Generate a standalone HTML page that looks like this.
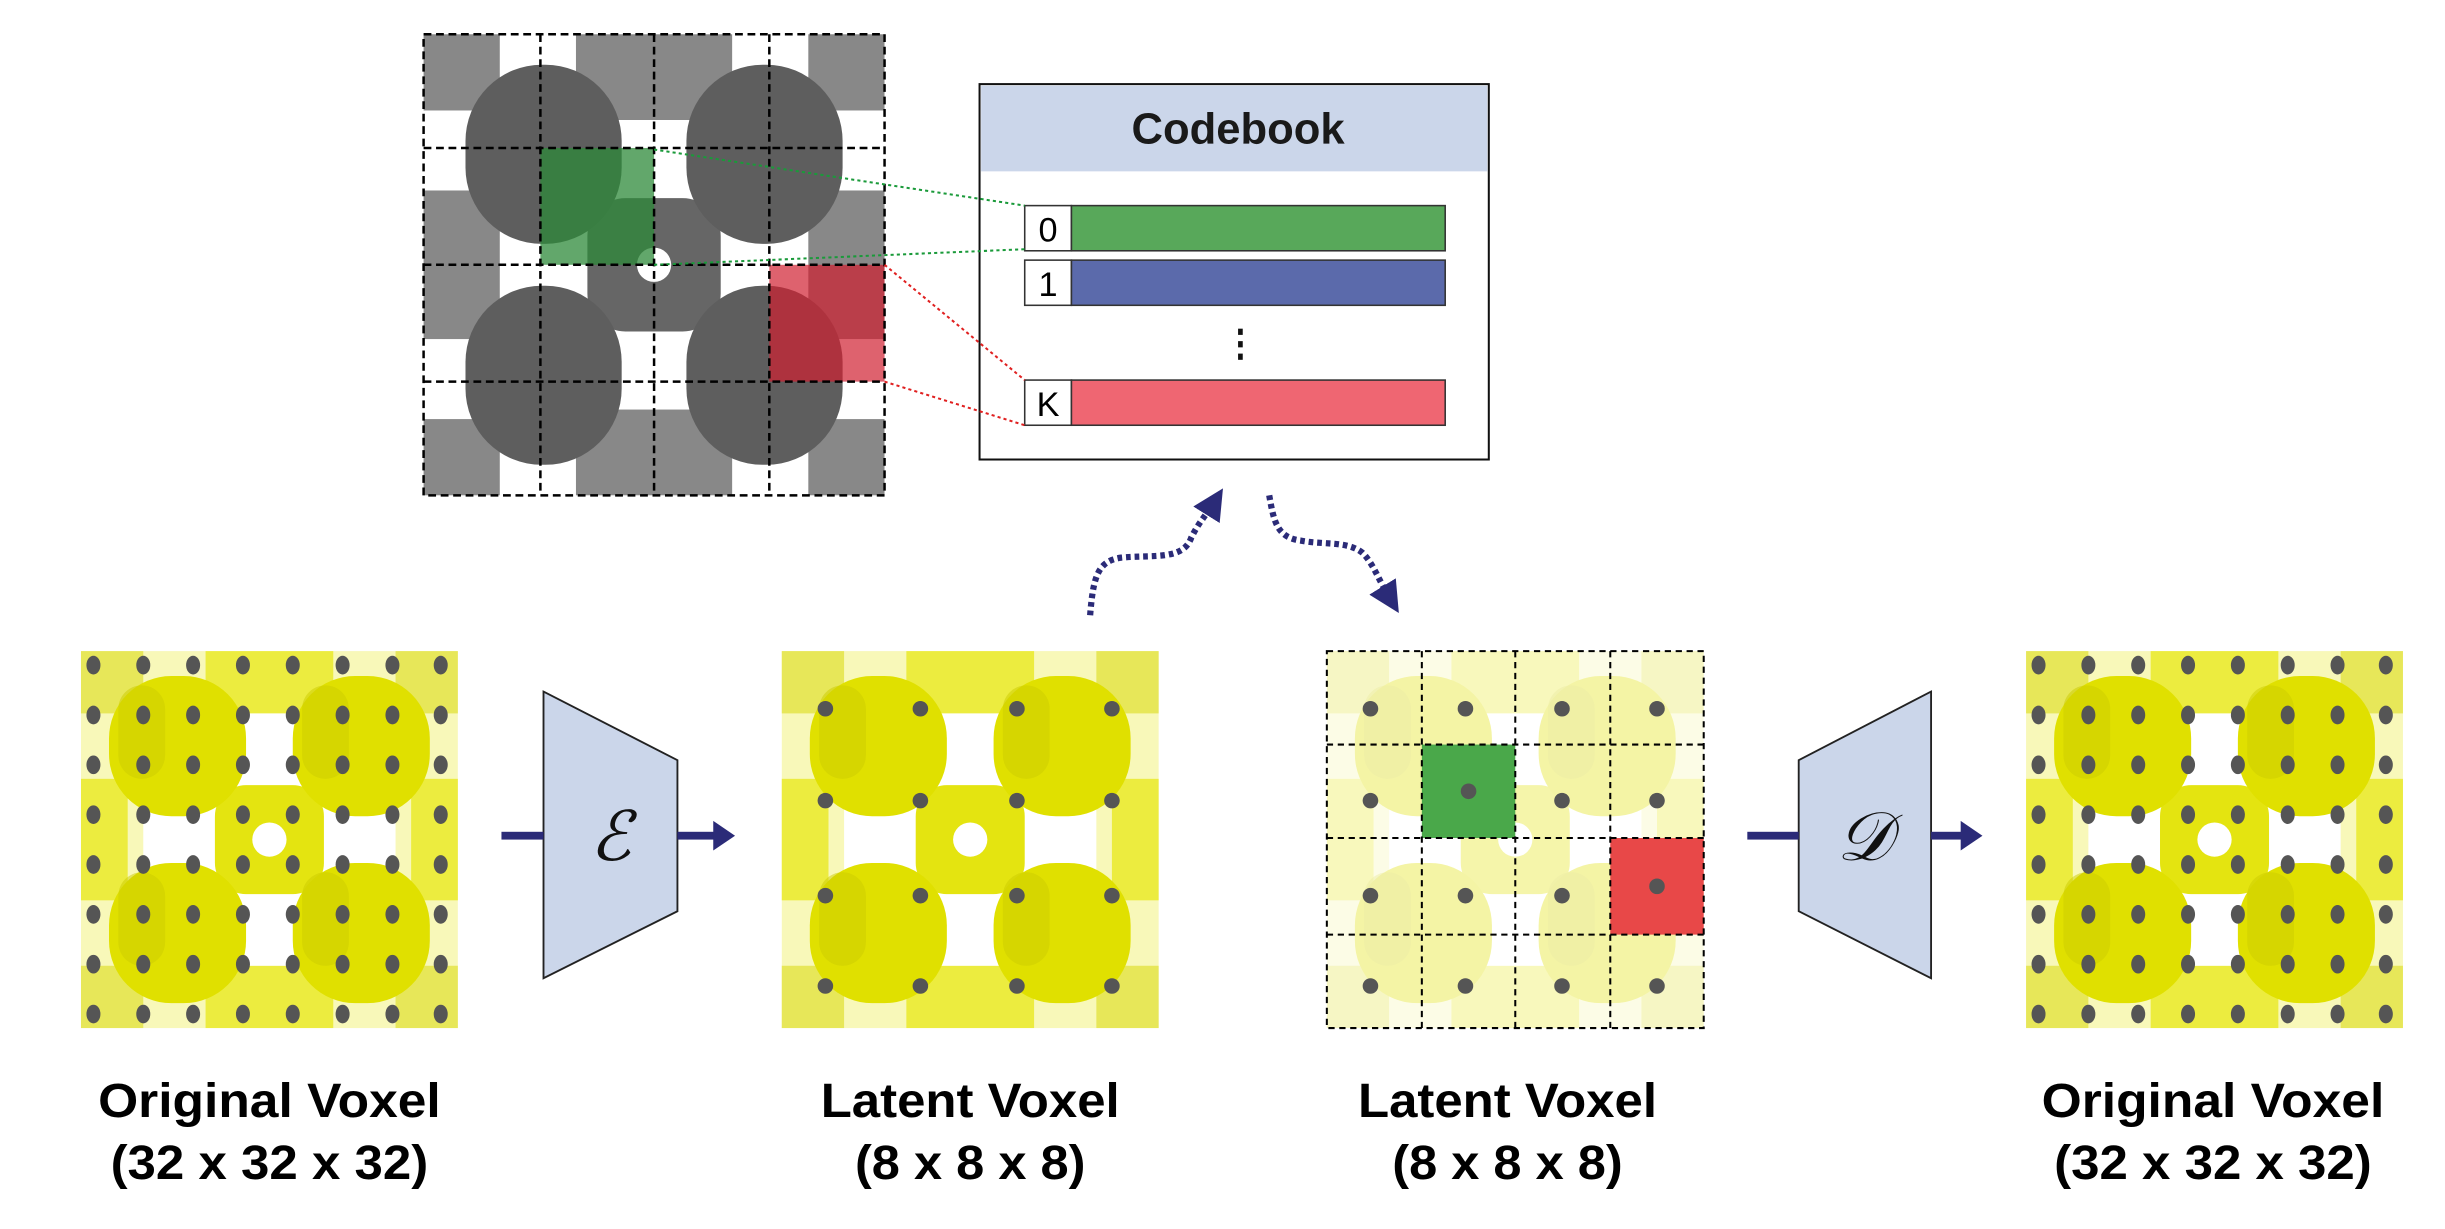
<!DOCTYPE html>
<html><head><meta charset="utf-8"><style>
html,body{margin:0;padding:0;background:#fff;}
svg{display:block;}
text{font-family:"Liberation Sans",Arial,sans-serif;}
</style></head><body>
<svg width="2445" height="1229" viewBox="0 0 1570 789" preserveAspectRatio="none" xmlns="http://www.w3.org/2000/svg">
<defs>
<marker id="ah" markerWidth="5" markerHeight="5" refX="2.5" refY="2.5" orient="auto" markerUnits="strokeWidth">
<path d="M0,0 L5,2.5 L0,5 z" fill="#2b2b78"/></marker>
<g id="vox">
  <rect x="0" y="0" width="242" height="242" fill="#f4f48a" opacity="0.6"/>
  <rect x="0" y="0" width="40" height="40" fill="#e0e030" opacity="0.7"/>
  <rect x="202" y="0" width="40" height="40" fill="#e0e030" opacity="0.7"/>
  <rect x="0" y="202" width="40" height="40" fill="#e0e030" opacity="0.7"/>
  <rect x="202" y="202" width="40" height="40" fill="#e0e030" opacity="0.7"/>
  <rect x="80" y="0" width="82" height="40" fill="#e8e820" opacity="0.8"/>
  <rect x="80" y="202" width="82" height="40" fill="#e8e820" opacity="0.8"/>
  <rect x="0" y="82" width="30" height="78" fill="#e8e820" opacity="0.8"/>
  <rect x="212" y="82" width="30" height="78" fill="#e8e820" opacity="0.8"/>
  <rect x="40" y="40" width="162" height="162" fill="#fff"/>
  <rect x="86" y="86" width="70" height="70" rx="20" fill="#e4e410"/>
  <circle cx="121" cy="121" r="11" fill="#fff"/>
  <rect x="18" y="16" width="88" height="90" rx="40" fill="#e0e000"/>
  <rect x="136" y="16" width="88" height="90" rx="40" fill="#e0e000"/>
  <rect x="18" y="136" width="88" height="90" rx="40" fill="#e0e000"/>
  <rect x="136" y="136" width="88" height="90" rx="40" fill="#e0e000"/>
  <rect x="24" y="22" width="30" height="60" rx="15" fill="#cccc00" opacity="0.5"/>
  <rect x="142" y="22" width="30" height="60" rx="15" fill="#cccc00" opacity="0.5"/>
  <rect x="24" y="142" width="30" height="60" rx="15" fill="#cccc00" opacity="0.5"/>
  <rect x="142" y="142" width="30" height="60" rx="15" fill="#cccc00" opacity="0.5"/>
</g>
<g id="grey">
  <rect x="0" y="0" width="242" height="242" fill="#fff"/>
  <g fill="#888">
    <rect x="0" y="0" width="40" height="40"/><rect x="202" y="0" width="40" height="40"/>
    <rect x="0" y="202" width="40" height="40"/><rect x="202" y="202" width="40" height="40"/>
    <rect x="80" y="0" width="82" height="45"/><rect x="80" y="197" width="82" height="45"/>
    <rect x="0" y="82" width="40" height="78"/><rect x="202" y="82" width="40" height="78"/>
  </g>
  <rect x="86" y="86" width="70" height="70" rx="20" fill="#666"/>
  <circle cx="121" cy="121" r="9" fill="#fff"/>
  <g fill="#5e5e5e">
  <rect x="22" y="16" width="82" height="94" rx="40"/><rect x="138" y="16" width="82" height="94" rx="40"/>
  <rect x="22" y="132" width="82" height="94" rx="40"/><rect x="138" y="132" width="82" height="94" rx="40"/>
  </g>
</g>
<g id="dots8" fill="#555">
  <g id="drow">
  <ellipse cx="8" cy="9" rx="4.5" ry="6"/><ellipse cx="40" cy="9" rx="4.5" ry="6"/><ellipse cx="72" cy="9" rx="4.5" ry="6"/><ellipse cx="104" cy="9" rx="4.5" ry="6"/>
  <ellipse cx="136" cy="9" rx="4.5" ry="6"/><ellipse cx="168" cy="9" rx="4.5" ry="6"/><ellipse cx="200" cy="9" rx="4.5" ry="6"/><ellipse cx="231" cy="9" rx="4.5" ry="6"/>
  </g>
  <use href="#drow" y="32"/><use href="#drow" y="64"/><use href="#drow" y="96"/>
  <use href="#drow" y="128"/><use href="#drow" y="160"/><use href="#drow" y="192"/><use href="#drow" y="224"/>
</g>
<g id="dots4" fill="#555">
  <g id="drow4"><circle cx="28" cy="37" r="5"/><circle cx="89" cy="37" r="5"/><circle cx="151" cy="37" r="5"/><circle cx="212" cy="37" r="5"/></g>
  <use href="#drow4" y="59"/><use href="#drow4" y="120"/><use href="#drow4" y="178"/>
</g>
</defs>

<!-- top grey grid -->
<g transform="translate(272,22) scale(1.223)"><use href="#grey"/></g>
<rect x="347" y="95" width="73" height="75" fill="#2e8a3a" opacity="0.75"/>
<rect x="494" y="170" width="74" height="75" fill="#d02030" opacity="0.7"/>
<g stroke="#000" stroke-width="1.6" stroke-dasharray="5,3" fill="none">
  <rect x="272" y="22" width="296" height="296"/>
  <line x1="347" y1="22" x2="347" y2="318"/><line x1="420" y1="22" x2="420" y2="318"/><line x1="494" y1="22" x2="494" y2="318"/>
  <line x1="272" y1="95" x2="568" y2="95"/><line x1="272" y1="170" x2="568" y2="170"/><line x1="272" y1="245" x2="568" y2="245"/>
</g>

<!-- codebook -->
<rect x="629" y="54" width="327" height="241" fill="#fff" stroke="#111" stroke-width="1.3"/>
<rect x="630" y="55" width="325" height="55" fill="#cbd6ea"/>
<text x="795" y="92" font-size="28" font-weight="bold" text-anchor="middle" fill="#1a1a1a">Codebook</text>
<rect x="658" y="132" width="30" height="29" fill="#fff" stroke="#333"/>
<rect x="688" y="132" width="240" height="29" fill="#58a85a" stroke="#333"/>
<text x="673" y="155" font-size="22" text-anchor="middle">0</text>
<rect x="658" y="167" width="30" height="29" fill="#fff" stroke="#333"/>
<rect x="688" y="167" width="240" height="29" fill="#5b6aab" stroke="#333"/>
<text x="673" y="190" font-size="22" text-anchor="middle">1</text>
<g fill="#111"><rect x="795" y="211" width="3" height="4"/><rect x="795" y="219" width="3" height="4"/><rect x="795" y="227" width="3" height="4"/></g>
<rect x="658" y="244" width="30" height="29" fill="#fff" stroke="#333"/>
<rect x="688" y="244" width="240" height="29" fill="#ef6672" stroke="#333"/>
<text x="673" y="267" font-size="22" text-anchor="middle">K</text>
<g stroke-width="1.3" stroke-dasharray="2,2" fill="none">
  <line x1="420" y1="96" x2="658" y2="132" stroke="#1a9a3a"/>
  <line x1="420" y1="170" x2="658" y2="160" stroke="#1a9a3a"/>
  <line x1="568" y1="170" x2="658" y2="244" stroke="#e02020"/>
  <line x1="568" y1="245" x2="658" y2="273" stroke="#e02020"/>
</g>

<!-- dashed arrows -->
<g stroke="#2b2b78" stroke-width="4" stroke-dasharray="3,2.5" fill="none">
  <path d="M700,395 C702,370 705,360 720,358 C740,356 760,360 765,345 C770,335 775,330 780,322" marker-end="url(#ah)"/>
  <path d="M815,318 C818,335 820,345 835,347 C850,350 865,347 875,355 C882,362 885,372 893,385" marker-end="url(#ah)"/>
</g>

<!-- panels -->
<g transform="translate(52,418)"><use href="#vox"/><use href="#dots8"/></g>
<g transform="translate(502,418)"><use href="#vox"/><use href="#dots4"/></g>
<g transform="translate(852,418)"><use href="#vox" opacity="0.35"/><use href="#dots4"/></g>
<rect x="913" y="478" width="60" height="60" fill="#4aa84a"/>
<rect x="1034" y="538" width="60" height="62" fill="#e84848"/>
<circle cx="943" cy="508" r="5" fill="#555"/><circle cx="1064" cy="569" r="5" fill="#555"/>
<g stroke="#000" stroke-width="1.3" stroke-dasharray="4,3" fill="none">
  <rect x="852" y="418" width="242" height="242"/>
  <line x1="913" y1="418" x2="913" y2="660"/><line x1="973" y1="418" x2="973" y2="660"/><line x1="1034" y1="418" x2="1034" y2="660"/>
  <line x1="852" y1="478" x2="1094" y2="478"/><line x1="852" y1="538" x2="1094" y2="538"/><line x1="852" y1="600" x2="1094" y2="600"/>
</g>
<g transform="translate(1301,418)"><use href="#vox"/><use href="#dots8"/></g>

<!-- encoder / decoder -->
<polygon points="349,444 435,488 435,585 349,628" fill="#cbd6ea" stroke="#222" stroke-width="1.2"/>
<text x="392" y="552" font-size="44" font-family="Liberation Serif,serif" font-style="italic" text-anchor="middle" fill="#111">ℰ</text>
<polygon points="1240,444 1155,488 1155,585 1240,628" fill="#cbd6ea" stroke="#222" stroke-width="1.2"/>
<text x="1197" y="552" font-size="44" font-family="Liberation Serif,serif" font-style="italic" text-anchor="middle" fill="#111">𝒟</text>
<g fill="#2b2b78">
  <rect x="322" y="534" width="27" height="5"/>
  <rect x="435" y="534" width="24" height="5"/><polygon points="458,527 472,536.5 458,546"/>
  <rect x="1122" y="534" width="33" height="5"/>
  <rect x="1240" y="534" width="20" height="5"/><polygon points="1259,527 1273,536.5 1259,546"/>
</g>

<!-- labels -->
<g font-size="31" font-weight="bold" text-anchor="middle" fill="#000">
  <text x="173" y="717" textLength="220" lengthAdjust="spacingAndGlyphs">Original Voxel</text><text x="173" y="757" textLength="204" lengthAdjust="spacingAndGlyphs">(32 x 32 x 32)</text>
  <text x="623" y="717" textLength="192" lengthAdjust="spacingAndGlyphs">Latent Voxel</text><text x="623" y="757" textLength="148" lengthAdjust="spacingAndGlyphs">(8 x 8 x 8)</text>
  <text x="968" y="717" textLength="192" lengthAdjust="spacingAndGlyphs">Latent Voxel</text><text x="968" y="757" textLength="148" lengthAdjust="spacingAndGlyphs">(8 x 8 x 8)</text>
  <text x="1421" y="717" textLength="220" lengthAdjust="spacingAndGlyphs">Original Voxel</text><text x="1421" y="757" textLength="204" lengthAdjust="spacingAndGlyphs">(32 x 32 x 32)</text>
</g>
</svg>
</body></html>
